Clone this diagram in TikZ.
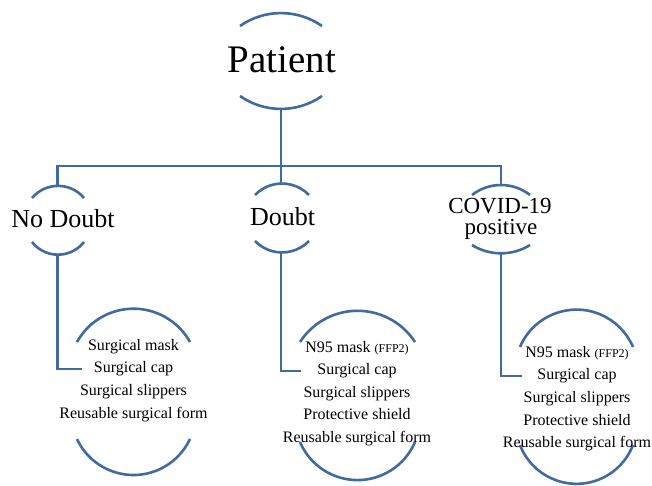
\documentclass[tikz,border=0pt]{standalone}
\usepackage{fontspec}
\setmainfont{Liberation Serif}
\usepackage{tikz}

\definecolor{linkblue}{RGB}{64,106,160}

\tikzset{
  link/.style={draw=linkblue, line width=2.2pt},
  ring/.style={draw=linkblue, line width=2.6pt},
  title/.style={font=\fontsize{26}{28}\selectfont, anchor=base, inner sep=2pt},
  item/.style={font=\fontsize{16}{18}\selectfont, anchor=base, inner sep=3pt}
}

\begin{document}
\begin{tikzpicture}[x=1pt,y=-1pt]
				\useasboundingbox (0,0) rectangle (652,486);

				% arcs above and below every block: centre x / half chord / top y / top angle / bottom y / bottom angle
				\foreach \cx/\h/\yt/\at/\yb/\ab in {281/41/26/35/96/35, 58/26/198/50/242/52, 282/27/195/46/241/46,
					501/29/195/38/245/32, 133.5/56.5/342/61/439/65, 357.5/57.5/342/57/442/67, 576.5/56.5/347/67/445/69}
				{
					\pgfmathsetmacro\rt{\h/sin(\at)}
					\pgfmathsetmacro\rb{\h/sin(\ab)}
					\draw [ring] ({\cx-\h},\yt) arc [start angle=90+\at, end angle=90-\at, radius=\rt pt];
					\draw [ring] ({\cx-\h},\yb) arc [start angle=270-\ab, end angle=270+\ab, radius=\rb pt];
				}

				\node [title, font=\fontsize{39}{40}\selectfont] (patient) at (282, 73) {Patient};
				\node [title] (nodoubt) at (63, 227) {No Doubt};
				\node [title] (doubt) at (282.5, 225) {Doubt};
				\node [title, font=\fontsize{23}{24}\selectfont, inner sep=0pt] (covid) at (500, 213) {COVID-19};
				\node [title, font=\fontsize{23}{24}\selectfont, inner sep=0pt] (covidpos) at (501, 234) {positive};

				\foreach \t [count=\i] in {Surgical mask, Surgical cap, Surgical slippers, Reusable surgical form}
				{
					\node [item] (a\i) at (133.5, {350+22.7*(\i-1)}) {\t};
				}

				\foreach \t [count=\i] in {N95 mask {\fontsize{12}{14}\selectfont(FFP2)}, Surgical cap, Surgical slippers, Protective shield, Reusable surgical form}
				{
					\node [item] (b\i) at (357, {352+22.5*(\i-1)}) {\t};
				}

				\foreach \t [count=\i] in {N95 mask {\fontsize{12}{14}\selectfont(FFP2)}, Surgical cap, Surgical slippers, Protective shield, Reusable surgical form}
				{
					\node [item] (c\i) at (577, {357+22.7*(\i-1)}) {\t};
				}

				\coordinate (patient-b) at (281, 108);
				\coordinate (bar) at (281, 166);
				\coordinate (nodoubt-t) at (57.5, 186);
				\coordinate (nodoubt-b) at (57.5, 255);
				\coordinate (doubt-t) at (281, 183);
				\coordinate (doubt-b) at (281, 252);
				\coordinate (covid-t) at (501, 185);
				\coordinate (covid-b) at (501, 253);

				\draw [link] (patient-b) -- (doubt-t);
				\draw [link] (nodoubt-t) |- (bar) -| (covid-t);
				\draw [link] (nodoubt-b) |- ([xshift=-9pt]a2.west);
				\draw [link] (doubt-b) |- ([xshift=-13pt]b2.west);
				\draw [link] (covid-b) |- ([xshift=-12pt]c2.west);
		\end{tikzpicture}
\end{document}
